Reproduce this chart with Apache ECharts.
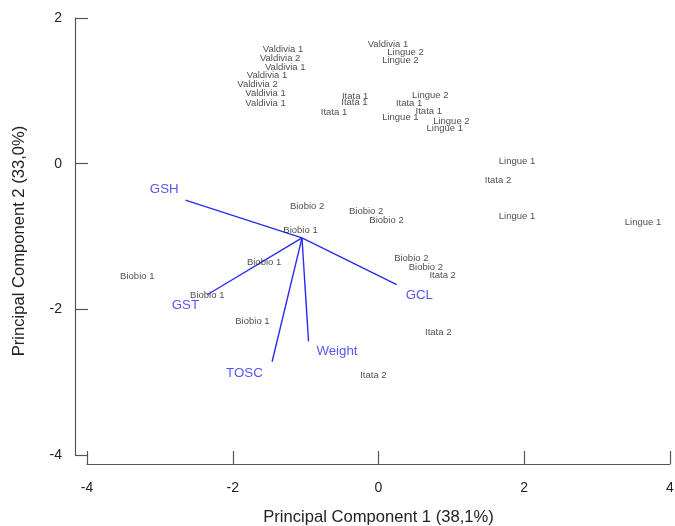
<!DOCTYPE html>
<html>
<head>
<meta charset="utf-8">
<script src="https://cdn.jsdelivr.net/npm/echarts@6/dist/echarts.min.js"></script>
<style>
  html, body { margin: 0; padding: 0; background: #fff; }
  #main { width: 675px; height: 526px; }
</style>
</head>
<body>
<div id="main"></div>
<script>
// sample scores (PC1, PC2)
var sampleNames = [
  'Valdivia 1', 'Valdivia 2', 'Valdivia 1', 'Valdivia 1', 'Valdivia 2', 'Valdivia 1', 'Valdivia 1',
  'Valdivia 1', 'Lingue 2', 'Lingue 2',
  'Itata 1', 'Itata 1', 'Itata 1',
  'Lingue 2', 'Itata 1', 'Itata 1', 'Lingue 1', 'Lingue 2', 'Lingue 1',
  'Lingue 1', 'Itata 2', 'Lingue 1', 'Lingue 1',
  'Biobio 2', 'Biobio 2', 'Biobio 2', 'Biobio 1', 'Biobio 1', 'Biobio 1',
  'Biobio 2', 'Biobio 2', 'Itata 2', 'Biobio 1', 'Biobio 1', 'Itata 2', 'Itata 2'
]
var pc1 = [
  -1.31, -1.35, -1.28, -1.53, -1.66, -1.55, -1.55,
  0.13, 0.37, 0.30,
  -0.32, -0.33, -0.61,
  0.71, 0.42, 0.69, 0.30, 1.00, 0.91,
  1.90, 1.64, 1.90, 3.63,
  -0.98, -0.17, 0.11, -1.07, -1.57, -3.31,
  0.45, 0.65, 0.88, -2.35, -1.73, 0.82, -0.07
]
var pc2 = [
  1.57, 1.44, 1.32, 1.21, 1.09, 0.96, 0.83,
  1.64, 1.53, 1.42,
  0.93, 0.84, 0.70,
  0.94, 0.83, 0.72, 0.63, 0.58, 0.48,
  0.03, -0.23, -0.72, -0.81,
  -0.58, -0.66, -0.78, -0.92, -1.35, -1.55,
  -1.30, -1.42, -1.54, -1.81, -2.16, -2.31, -2.90
]

// variable loadings (arrows start at a common origin)
var arrowOrigin = [-1.05, -1.02]
var varNames = ['GSH', 'GST', 'TOSC', 'Weight', 'GCL']
var loadX = [-2.65, -2.35, -1.46, -0.96, 0.25]
var loadY = [-0.50, -1.80, -2.72, -2.44, -1.66]
var varLabelX = [-2.94, -2.65, -1.84, -0.57, 0.56]
var varLabelY = [-0.35, -1.95, -2.88, -2.58, -1.81]

var blue = '#2b2bf2'
var axisGray = '#555'
var textGray = '#222'
var font = 'Liberation Sans, Arial, sans-serif'

var chart = echarts.init(document.getElementById('main'))

chart.setOption({
  animation: false,
  backgroundColor: '#fff',
  grid: {
    left: 87,
    right: 5,
    top: 18,
    bottom: 71,
    containLabel: false,
    outerBoundsMode: 'none'
  },
  xAxis: {
    type: 'value',
    min: -4,
    max: 4,
    interval: 2,
    offset: 9,
    name: 'Principal Component 1 (38,1%)',
    nameLocation: 'middle',
    nameGap: 45,
    nameTextStyle: { fontSize: 16.6, color: textGray, fontFamily: font },
    axisLine: { show: true, onZero: false, lineStyle: { color: axisGray, width: 1.2 } },
    axisTick: { show: true, inside: true, length: 13, lineStyle: { color: axisGray, width: 1.2 } },
    axisLabel: { margin: 17, fontSize: 14, color: textGray, fontFamily: font },
    splitLine: { show: false }
  },
  yAxis: {
    type: 'value',
    min: -4,
    max: 2,
    interval: 2,
    offset: 12,
    name: 'Principal Component 2 (33,0%)',
    nameLocation: 'middle',
    nameGap: 47,
    nameTextStyle: { fontSize: 16.6, color: textGray, fontFamily: font, padding: [0, 9, 0, 0] },
    axisLine: { show: true, onZero: false, lineStyle: { color: axisGray, width: 1.2 } },
    axisTick: { show: true, inside: true, length: 13, lineStyle: { color: axisGray, width: 1.2 } },
    axisLabel: { margin: 13, fontSize: 14, color: textGray, fontFamily: font },
    splitLine: { show: false }
  },
  series: [
    {
      // sample names written at their scores
      type: 'scatter',
      symbolSize: 1,
      itemStyle: { color: 'rgba(0,0,0,0)' },
      silent: true,
      data: pc1.map(function (x, i) { return { value: [x, pc2[i]], name: sampleNames[i] } }),
      label: {
        show: true,
        position: 'inside',
        formatter: function (p) { return p.name },
        fontSize: 9.5,
        color: textGray,
        fontFamily: font
      }
    },
    {
      // loading arrows
      type: 'lines',
      coordinateSystem: 'cartesian2d',
      silent: true,
      lineStyle: { color: blue, width: 1.4, opacity: 1 },
      data: varNames.map(function (n, i) {
        return { coords: [arrowOrigin, [loadX[i], loadY[i]]] }
      })
    },
    {
      // variable names
      type: 'scatter',
      symbolSize: 1,
      itemStyle: { color: 'rgba(0,0,0,0)' },
      silent: true,
      data: varNames.map(function (n, i) { return { value: [varLabelX[i], varLabelY[i]], name: n } }),
      label: {
        show: true,
        position: 'inside',
        formatter: function (p) { return p.name },
        fontSize: 13.3,
        color: blue,
        fontFamily: font
      }
    }
  ]
})
</script>
</body>
</html>
